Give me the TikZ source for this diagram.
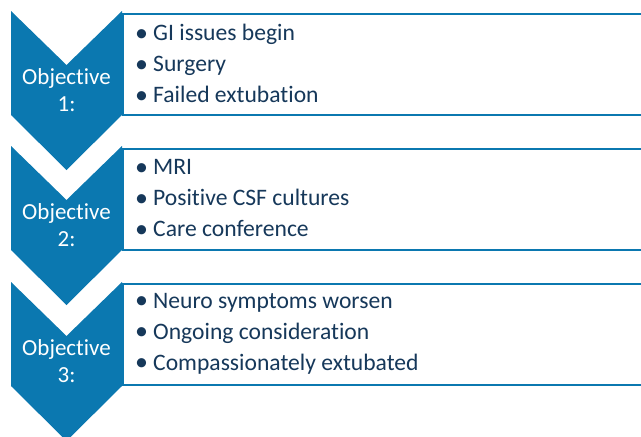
\documentclass[tikz,border=0pt]{standalone}
\usepackage{fontspec}
\setmainfont{Carlito}[Ligatures=NoCommon]
\usepackage{xcolor}
\usepackage{tikz}
\usetikzlibrary{positioning}

\definecolor{objblue}{RGB}{11,120,176}
\definecolor{itemtext}{RGB}{22,56,90}

\newcommand{\itembullet}{\makebox[16pt][l]{\hspace{-2pt}\raisebox{-0.03em}{\scalebox{1.1}{•}}}}

\begin{document}
\begin{tikzpicture}[
  x=1pt, y=-1pt,
  chevron/.style={fill=objblue},
  objtext/.style={text=white, align=center, font=\fontsize{23}{27}\selectfont},
  itembox/.style={draw=objblue, line width=2pt, fill=white, minimum width=523pt, minimum height=101pt, anchor=north west},
  item/.style={text=itemtext, align=left, anchor=west, inner sep=0pt, font=\fontsize{23.6}{31}\selectfont}
]
\clip (0,0) rectangle (641,437);

% Boxes
\node[itembox] (box1) at (122,13) {};
\node[itembox] (box2) at (122,148) {};
\node[itembox] (box3) at (122,283) {};

% Chevrons
\fill[chevron] (11,11) -- (66.5,65) -- (122,11) -- (122,115) -- (66.5,170) -- (11,115) -- cycle;
\fill[chevron] (11,146) -- (66.5,200) -- (122,146) -- (122,250) -- (66.5,305) -- (11,250) -- cycle;
\fill[chevron] (11,282) -- (66.5,336) -- (122,282) -- (122,386) -- (66.5,441) -- (11,386) -- cycle;

\node[objtext] (obj1) at (66.5,90) {Objective\\1:};
\node[objtext] (obj2) at (66.5,225) {Objective\\2:};
\node[objtext] (obj3) at (66.5,361) {Objective\\3:};

% Lists
\node[item] (list1) at ([xshift=15pt,yshift=1pt]box1.west) {%
  \itembullet GI issues begin\\
  \itembullet Surgery\\
  \itembullet Failed extubation};
\node[item] (list2) at ([xshift=15pt,yshift=1pt]box2.west) {%
  \itembullet MRI\\
  \itembullet Positive CSF cultures\\
  \itembullet Care conference};
\node[item] (list3) at ([xshift=15pt,yshift=1pt]box3.west) {%
  \itembullet Neuro symptoms worsen\\
  \itembullet Ongoing consideration\\
  \itembullet Compassionately extubated};
\end{tikzpicture}
\end{document}
